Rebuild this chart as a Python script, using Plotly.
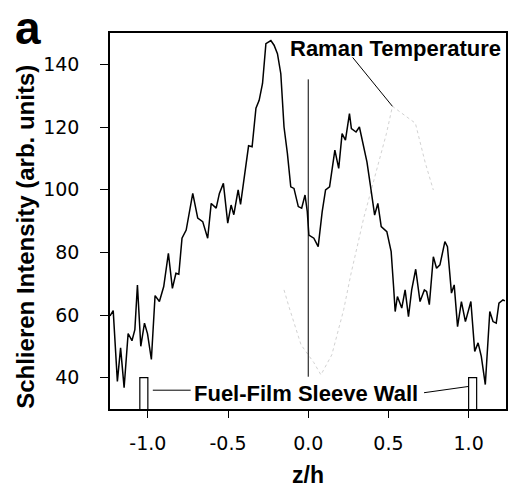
import plotly.graph_objects as go

# Schlieren intensity profile across the channel (z/h)
z = [-1.236, -1.216, -1.190, -1.170, -1.148, -1.123, -1.099, -1.081, -1.065, -1.044,
     -1.021, -1.002, -0.978, -0.955, -0.928, -0.901, -0.872, -0.847, -0.825, -0.807,
     -0.787, -0.761, -0.720, -0.689, -0.658, -0.627, -0.605, -0.574, -0.554, -0.529,
     -0.502, -0.481, -0.464, -0.437, -0.422, -0.399, -0.372, -0.350, -0.326, -0.306,
     -0.285, -0.264, -0.233, -0.213, -0.192, -0.171, -0.151, -0.130, -0.109, -0.089,
     -0.062, -0.041, -0.020, -0.006, 0.004, 0.035, 0.062, 0.087, 0.108, 0.133,
     0.166, 0.190, 0.211, 0.232, 0.257, 0.269, 0.298, 0.319, 0.346, 0.366,
     0.387, 0.414, 0.434, 0.455, 0.490, 0.517, 0.532, 0.542, 0.556, 0.583,
     0.604, 0.625, 0.645, 0.670, 0.697, 0.724, 0.738, 0.755, 0.780, 0.800,
     0.821, 0.852, 0.868, 0.893, 0.910, 0.931, 0.955, 0.980, 1.014, 1.038,
     1.059, 1.079, 1.104, 1.132, 1.152, 1.172, 1.189, 1.214, 1.226]
intensity = [59.7, 61.4, 38.8, 49.5, 36.8, 54.1, 51.8, 55.3, 69.6, 50.0,
             57.4, 54.0, 45.8, 66.2, 64.3, 69.1, 79.7, 68.5, 73.3, 73.0,
             84.5, 87.1, 98.8, 90.9, 89.8, 84.5, 95.6, 94.1, 98.8, 102.0,
             89.3, 95.1, 92.0, 99.9, 95.3, 103.6, 114.0, 113.7, 126.0, 128.5,
             133.9, 146.6, 147.6, 146.1, 143.4, 137.0, 120.0, 111.6, 100.9, 100.4,
             94.6, 94.1, 98.3, 93.0, 85.5, 84.5, 81.8, 93.0, 99.9, 100.9,
             112.6, 106.8, 117.9, 115.8, 124.3, 119.5, 118.4, 120.0, 113.2, 108.9,
             101.5, 91.9, 95.6, 88.2, 86.6, 80.2, 69.1, 61.1, 65.9, 62.2,
             68.0, 59.5, 68.0, 74.6, 64.3, 68.0, 67.5, 63.3, 78.6, 74.9,
             76.0, 83.4, 81.8, 67.0, 69.6, 56.3, 64.3, 57.9, 64.3, 48.4,
             51.1, 46.8, 37.8, 61.1, 57.9, 57.4, 63.8, 64.8, 64.5]

# Raman temperature profile (faint dotted, arbitrary scale)
raman_z = [-0.151, -0.120, -0.045, 0.035, 0.079, 0.147, 0.221, 0.265, 0.346, 0.488,
           0.525, 0.668, 0.730, 0.780]
raman_val = [68.0, 62.6, 50.5, 44.8, 40.9, 47.3, 61.7, 72.8, 91.0, 118.0,
             126.6, 121.2, 108.5, 99.9]

# centreline marker
center_z = [0.0, 0.0]
center_val = [40.3, 135.2]

# fuel-film sleeve walls
wall_left_z = [-1.05, -1.05, -1.0, -1.0]
wall_right_z = [1.0, 1.0, 1.05, 1.05]
wall_val = [30, 40, 40, 30]

# label leader lines
leader_left_z = [-0.969, -0.733]
leader_left_val = [36.0, 36.0]
leader_right_z = [0.722, 1.0]
leader_right_val = [35.2, 37.2]
raman_leader_z = [0.277, 0.525]
raman_leader_val = [142.2, 126.6]

x_ticks = [-1.0, -0.5, 0.0, 0.5, 1.0]
x_ticktext = ["-1.0", "-0.5", "0.0", "0.5", "1.0"]
y_ticks = [40, 60, 80, 100, 120, 140]

BOLD_FONT = "Liberation Sans, Arial, sans-serif"
TICK_FONT = "DejaVu Sans, sans-serif"

fig = go.Figure()

fig.add_trace(go.Scatter(x=raman_z, y=raman_val, mode="lines",
                         line=dict(color="#d2d2d2", width=1, dash="dot"),
                         hoverinfo="skip"))
fig.add_trace(go.Scatter(x=center_z, y=center_val, mode="lines",
                         line=dict(color="black", width=1)))
for wz in (wall_left_z, wall_right_z):
    fig.add_trace(go.Scatter(x=wz, y=wall_val, mode="lines",
                             line=dict(color="black", width=1.2)))
for lz, lv in ((leader_left_z, leader_left_val), (leader_right_z, leader_right_val),
               (raman_leader_z, raman_leader_val)):
    fig.add_trace(go.Scatter(x=lz, y=lv, mode="lines",
                             line=dict(color="black", width=1)))
fig.add_trace(go.Scatter(x=z, y=intensity, mode="lines",
                         line=dict(color="black", width=1.5)))

fig.update_layout(
    width=512, height=491,
    margin=dict(l=110, r=4, t=33, b=82),
    paper_bgcolor="white", plot_bgcolor="white",
    showlegend=False,
    font=dict(family=BOLD_FONT, color="black", size=21),
    xaxis=dict(range=[-1.236, 1.233], tickvals=x_ticks, ticktext=x_ticktext,
               ticks="outside", ticklen=7, tickwidth=1.2, tickcolor="black",
               showline=True, linecolor="black", linewidth=1.5, mirror=True,
               showgrid=False, zeroline=False, ticklabelstandoff=9,
               tickfont=dict(family=TICK_FONT, size=19)),
    yaxis=dict(range=[30, 150], tickvals=y_ticks,
               ticks="outside", ticklen=8, tickwidth=1.2, tickcolor="black",
               showline=True, linecolor="black", linewidth=1.5, mirror=True,
               showgrid=False, zeroline=False, ticklabelstandoff=17,
               tickfont=dict(family=TICK_FONT, size=19)),
    annotations=[
        dict(text="<b>Schlieren Intensity (arb. units)</b>", textangle=-90,
             xref="paper", yref="paper", x=-0.213, y=0.457,
             xanchor="center", yanchor="middle", showarrow=False,
             font=dict(size=24)),
        dict(text="<b>z/h</b>", xref="paper", yref="paper", x=0.5, y=-0.176,
             xanchor="center", yanchor="middle", showarrow=False,
             font=dict(size=23)),
        dict(text="<b>a</b>", xref="paper", yref="paper", x=-0.2437, y=1.0875,
             xanchor="left", yanchor="top", showarrow=False,
             font=dict(size=46)),
        dict(text="<b>Raman Temperature</b>", xref="x", yref="y",
             x=1.214, y=145.0, xanchor="right", yanchor="middle",
             showarrow=False, font=dict(size=22)),
        dict(text="<b>Fuel-Film Sleeve Wall</b>", xref="x", yref="y",
             x=-0.017, y=34.9, xanchor="center", yanchor="middle",
             showarrow=False, font=dict(size=22)),
    ],
)

fig.write_html("out.html")
